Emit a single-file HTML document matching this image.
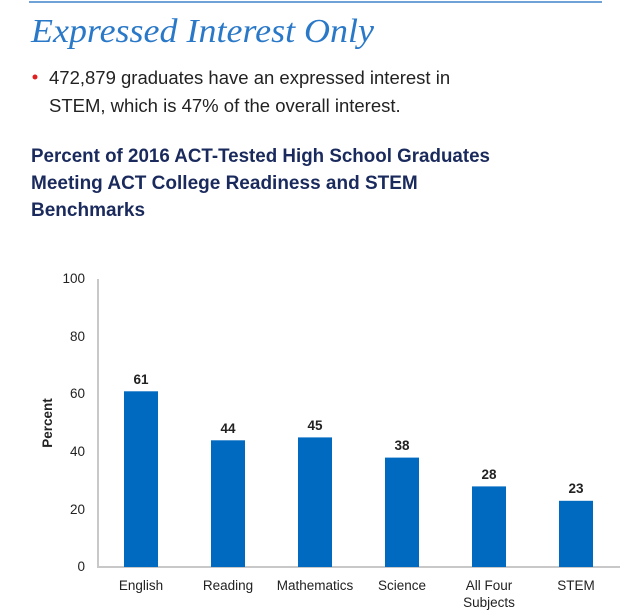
<!DOCTYPE html>
<html><head><meta charset="utf-8"><style>
body{margin:0;background:#fff;width:625px;height:615px;overflow:hidden}
</style></head><body>
<svg width="625" height="615" xmlns="http://www.w3.org/2000/svg" style="display:block">
<line x1="29" y1="2" x2="602" y2="2" stroke="#6fa3d8" stroke-width="2"/>
<text x="31" y="42" font-family="Liberation Serif, serif" font-style="italic" font-size="34" textLength="343" lengthAdjust="spacingAndGlyphs" fill="#2a78c8">Expressed Interest Only</text>
<circle cx="35" cy="77" r="2.5" fill="#e02020"/>
<g font-family="Liberation Sans, sans-serif" font-size="18.5" fill="#222">
<text x="49" y="84">472,879 graduates have an expressed interest in</text>
<text x="49" y="112">STEM, which is 47% of the overall interest.</text>
</g>
<g font-family="Liberation Sans, sans-serif" font-size="19" font-weight="bold" fill="#1a2a5c">
<text x="31" y="162" textLength="459" lengthAdjust="spacingAndGlyphs">Percent of 2016 ACT-Tested High School Graduates</text>
<text x="31" y="189">Meeting ACT College Readiness and STEM</text>
<text x="31" y="216">Benchmarks</text>
</g>
<line x1="98" y1="279" x2="98" y2="567" stroke="#c8c8c8" stroke-width="2"/>
<line x1="97" y1="567" x2="620" y2="567" stroke="#c8c8c8" stroke-width="2"/>
<g font-family="Liberation Sans, sans-serif" font-size="13.5" fill="#222" text-anchor="end">
<text x="85" y="283">100</text><text x="85" y="341">80</text><text x="85" y="398">60</text>
<text x="85" y="456">40</text><text x="85" y="514">20</text><text x="85" y="571">0</text>
</g>
<text transform="translate(52,423) rotate(-90)" font-family="Liberation Sans, sans-serif" font-size="13.5" font-weight="bold" fill="#222" text-anchor="middle">Percent</text>
<g fill="#0069c0">
<rect x="124" y="391.3" width="34" height="175.7"/>
<rect x="211" y="440.3" width="34" height="126.7"/>
<rect x="298" y="437.4" width="34" height="129.6"/>
<rect x="385" y="457.6" width="34" height="109.4"/>
<rect x="472" y="486.4" width="34" height="80.6"/>
<rect x="559" y="500.8" width="34" height="66.2"/>
</g>
<g font-family="Liberation Sans, sans-serif" font-size="13.5" font-weight="bold" fill="#222" text-anchor="middle">
<text x="141" y="384">61</text><text x="228" y="433">44</text><text x="315" y="430">45</text>
<text x="402" y="450">38</text><text x="489" y="479">28</text><text x="576" y="493">23</text>
</g>
<g font-family="Liberation Sans, sans-serif" font-size="13.5" fill="#222" text-anchor="middle">
<text x="141" y="590">English</text><text x="228" y="590">Reading</text><text x="315" y="590">Mathematics</text>
<text x="402" y="590">Science</text><text x="489" y="590">All Four</text><text x="489" y="607">Subjects</text>
<text x="576" y="590">STEM</text>
</g>
</svg>
</body></html>
